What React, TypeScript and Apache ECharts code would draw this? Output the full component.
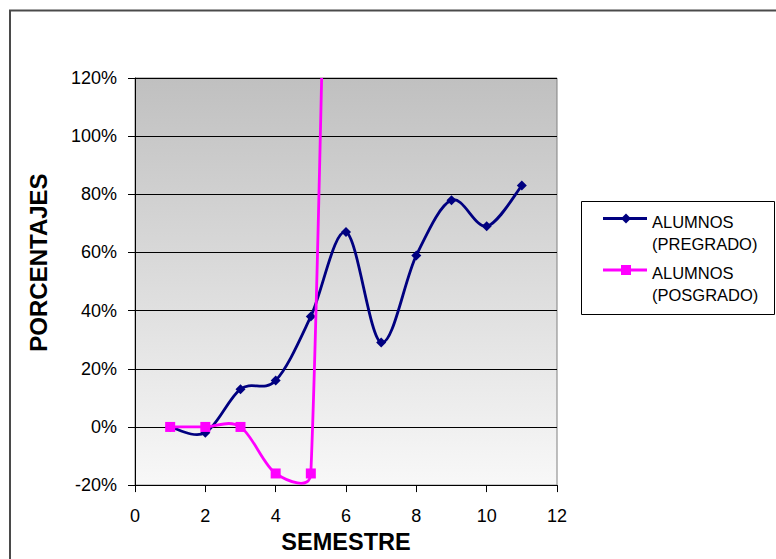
import React, { useEffect, useRef } from "react";
import * as echarts from "echarts";

const pregradoX = [1, 2, 3, 4, 5, 6, 7, 8, 9, 10, 11];
const pregrado = [0, -2, 13, 16, 38, 67, 29, 59, 78, 69, 83];
const posgradoX = [1, 2, 3, 4, 5, 6];
const posgrado = [0, 0, 0, -16, -16, 550];
const yTicks = { min: -20, max: 120, interval: 20 };
const xTicks = { min: 0, max: 12, interval: 2 };
const seriesNames = ["ALUMNOS\n(PREGRADO)", "ALUMNOS\n(POSGRADO)"];
const colors = ["#000080", "#ff00ff"];

const FONT = "'Liberation Sans', Arial, sans-serif";

// Excel-like smoothed scatter line, drawn through the cartesian axes
function splineSeries(xs: number[], ys: number[], color: string, name: string, z: number) {
  const segs = xs.slice(0, -1).map((x, i) => [x, ys[i], xs[i + 1], ys[i + 1]]);
  return {
    name,
    type: "custom",
    clip: true,
    z,
    silent: true,
    encode: { x: [0, 2], y: [1, 3] },
    data: segs,
    renderItem: (params: any, api: any) => {
      const i = params.dataIndex;
      const n = xs.length;
      const P = (k: number) => api.coord([xs[Math.max(0, Math.min(n - 1, k))], ys[Math.max(0, Math.min(n - 1, k))]]);
      const p0 = P(i - 1);
      const p1 = P(i);
      const p2 = P(i + 1);
      const p3 = P(i + 2);
      const d12 = Math.hypot(p2[0] - p1[0], p2[1] - p1[1]);
      const d02 = Math.hypot(p2[0] - p0[0], p2[1] - p0[1]) || 1;
      const d13 = Math.hypot(p3[0] - p1[0], p3[1] - p1[1]) || 1;
      let f1 = 1 / 6;
      if (d02 / 6 > d12 / 2) f1 = d12 / (2 * d02);
      let f2 = 1 / 6;
      if (d13 / 6 > d12 / 2) f2 = d12 / (2 * d13);
      return {
        type: "bezierCurve",
        shape: {
          x1: p1[0],
          y1: p1[1],
          x2: p2[0],
          y2: p2[1],
          cpx1: p1[0] + (p2[0] - p0[0]) * f1,
          cpy1: p1[1] + (p2[1] - p0[1]) * f1,
          cpx2: p2[0] - (p3[0] - p1[0]) * f2,
          cpy2: p2[1] - (p3[1] - p1[1]) * f2,
        },
        style: { stroke: color, lineWidth: 2.8, fill: "none" },
      };
    },
  };
}

export default function App() {
  const ref = useRef<HTMLDivElement>(null);
  useEffect(() => {
    if (!ref.current) return;
    const chart = echarts.init(ref.current, null, { renderer: "svg" });
    const legendItems: any[] = [];
    const legendRows = [210.5, 262];
    seriesNames.forEach((n, i) => {
      const y = legendRows[i] + 8;
      legendItems.push({
        type: "line",
        shape: { x1: 603, y1: y, x2: 647, y2: y },
        style: { stroke: colors[i], lineWidth: 3 },
        z: 101,
      });
      if (i === 0) {
        legendItems.push({
          type: "polygon",
          shape: { points: [[626, y - 5], [631, y], [626, y + 5], [621, y]] },
          style: { fill: colors[i] },
          z: 102,
        });
      } else {
        legendItems.push({
          type: "rect",
          shape: { x: 621, y: y - 5, width: 10, height: 10 },
          style: { fill: colors[i] },
          z: 102,
        });
      }
      legendItems.push({
        type: "text",
        x: 652,
        y: legendRows[i],
        style: {
          text: n,
          fontFamily: FONT,
          fontSize: 16.5,
          lineHeight: 22,
          fill: "#000",
          verticalAlign: "top",
          align: "left",
        },
        z: 102,
      });
    });

    chart.setOption({
      animation: false,
      backgroundColor: "#ffffff",
      textStyle: { fontFamily: FONT },
      grid: {
        left: 135,
        top: 78,
        right: 219,
        bottom: 71,
        show: true,
        borderColor: "#808080",
        borderWidth: 1,
        backgroundColor: {
          type: "linear",
          x: 0,
          y: 0,
          x2: 0,
          y2: 1,
          colorStops: [
            { offset: 0, color: "#c0c0c0" },
            { offset: 1, color: "#f8f8f8" },
          ],
        },
      },
      xAxis: {
        type: "value",
        min: xTicks.min,
        max: xTicks.max,
        interval: xTicks.interval,
        name: "SEMESTRE",
        nameLocation: "middle",
        nameGap: 41,
        nameTextStyle: { fontFamily: FONT, fontSize: 23.5, fontWeight: "bold", color: "#000" },
        axisLine: { show: true, onZero: false, lineStyle: { color: "#000", width: 1 } },
        axisTick: { show: true, inside: false, length: 7, lineStyle: { color: "#000" } },
        axisLabel: { fontFamily: FONT, fontSize: 18, color: "#000", margin: 22 },
        splitLine: { show: false },
      },
      yAxis: {
        type: "value",
        min: yTicks.min,
        max: yTicks.max,
        interval: yTicks.interval,
        name: "PORCENTAJES",
        nameLocation: "middle",
        nameGap: 85,
        nameTextStyle: {
          fontFamily: FONT,
          fontSize: 24,
          fontWeight: "bold",
          color: "#000",
          padding: [0, 0, 0, 38],
        },
        axisLine: { show: true, onZero: false, lineStyle: { color: "#000", width: 1 } },
        axisTick: { show: true, inside: false, length: 7, lineStyle: { color: "#000" } },
        axisLabel: {
          fontFamily: FONT,
          fontSize: 18,
          color: "#000",
          margin: 18,
          formatter: "{value}%",
        },
        splitLine: { show: true, lineStyle: { color: "#000", width: 1 } },
      },
      series: [
        splineSeries(pregradoX, pregrado, colors[0], seriesNames[0], 2),
        {
          name: seriesNames[0],
          type: "scatter",
          data: pregradoX.map((x, i) => [x, pregrado[i]]),
          symbol: "diamond",
          symbolSize: 10,
          itemStyle: { color: colors[0], opacity: 1 },
          z: 3,
        },
        splineSeries(posgradoX, posgrado, colors[1], seriesNames[1], 4),
        {
          name: seriesNames[1],
          type: "scatter",
          data: posgradoX.map((x, i) => [x, posgrado[i]]),
          symbol: "rect",
          symbolSize: 10,
          clip: true,
          itemStyle: { color: colors[1], opacity: 1 },
          z: 5,
        },
      ],
      graphic: [
        {
          type: "line",
          shape: { x1: 9, y1: 10.5, x2: 776, y2: 10.5 },
          style: { stroke: "#4a4a4a", lineWidth: 2 },
          z: 100,
        },
        {
          type: "line",
          shape: { x1: 10, y1: 10, x2: 10, y2: 559 },
          style: { stroke: "#4a4a4a", lineWidth: 2 },
          z: 100,
        },
        {
          type: "rect",
          shape: { x: 581.5, y: 201.5, width: 193, height: 113 },
          style: { fill: "#ffffff", stroke: "#000", lineWidth: 1 },
          z: 100,
        },
        ...legendItems,
      ],
    });
    return () => chart.dispose();
  }, []);
  return (
    <div
      ref={ref}
      style={{ position: "fixed", left: 0, top: 0, width: 776, height: 559 }}
    />
  );
}
